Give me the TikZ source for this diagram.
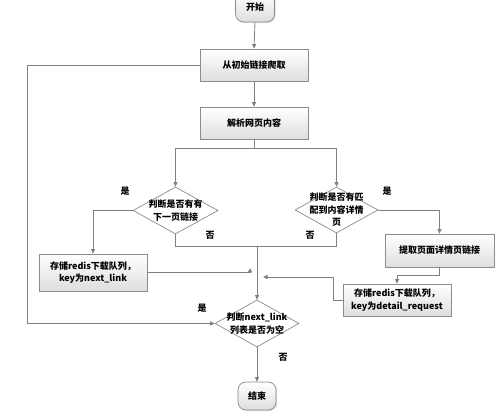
\documentclass[tikz,border=0pt]{standalone}
\usepackage{fontspec}
\setmainfont{Noto Sans CJK SC}
\usetikzlibrary{shapes.geometric,arrows.meta,shadows}
\definecolor{linegray}{RGB}{128,128,128}
\definecolor{boxgray}{RGB}{140,140,140}
\definecolor{boxfill}{RGB}{222,222,222}
\begin{document}
\begin{tikzpicture}[x=1pt,y=-1pt,
  font=\fontsize{9}{12.5}\selectfont\bfseries,
  line/.style={draw=linegray, line width=0.8pt},
  arr/.style={line, -{Triangle[length=4.5pt,width=4pt]}},
  proc/.style={rectangle, draw=boxgray, line width=0.7pt, top color=white, bottom color=boxfill,
    inner sep=0pt, align=center, drop shadow={shadow xshift=1.2pt, shadow yshift=-1.2pt, opacity=0.25}},
  term/.style={proc, rounded corners=8pt},
  dec/.style={diamond, draw=boxgray, line width=0.7pt, fill=white, inner sep=0pt},
  lbl/.style={inner sep=0pt}]
\useasboundingbox (0,0) rectangle (500,419);
\fill[white] (0,0) rectangle (500,419);
% nodes
\node[term, minimum width=39pt, minimum height=30pt] (start) at (255,7) {开始};
\node[proc, minimum width=108pt, minimum height=32pt] (b1) at (254,65) {从初始链接爬取};
\node[proc, minimum width=108pt, minimum height=32pt] (b2) at (254,123) {解析网页内容};
\node[dec, minimum width=85pt, minimum height=47pt,
  label={[align=center]center:判断是否有有\\下一页链接}] (d1) at (175.5,210.5) {};
\node[dec, minimum width=83pt, minimum height=46pt,
  label={[align=center]center:判断是否有匹\\配到内容详情\\页}] (d2) at (336.5,210) {};
\node[proc, minimum width=108pt, minimum height=37pt] (b3) at (93,272.5) {存储redis下载队列，\\key为next\_link};
\node[proc, minimum width=109pt, minimum height=33pt] (b4) at (439.5,250.5) {提取页面详情页链接};
\node[proc, minimum width=108pt, minimum height=32pt] (b5) at (397,300) {存储redis下载队列，\\key为detail\_request};
\node[dec, minimum width=84pt, minimum height=47pt,
  label={[align=center]center:判断next\_link\\列表是否为空}] (d3) at (257,323.5) {};
\node[term, minimum width=38pt, minimum height=28pt] (end) at (257,396) {结束};
% labels
\node[lbl] (y1) at (125,191) {是};
\node[lbl] (n1l) at (210,235) {否};
\node[lbl] (y2) at (387,191) {是};
\node[lbl] (n2l) at (310,235) {否};
\node[lbl] (y3) at (202,308) {是};
\node[lbl] (n3l) at (283,357) {否};
% coordinates
\coordinate (split) at (254,148);
\coordinate (j) at (257,246);
\coordinate (k) at (397,275);
\coordinate (m) at (263,277);
\coordinate (p1) at (250,272.5);
\coordinate (p2) at (250,268);
\coordinate (lft) at (27,65);
% connectors
\draw[arr] (start.south) -- (b1.north);
\draw[arr] (b1.south) -- (b2.north);
\draw[line] (b2.south) -- (split);
\draw[arr] (split) -| (d1.north);
\draw[arr] (split) -| (d2.north);
\draw[arr] (d1.west) -| (b3.north);
\draw[line] (d1.south) |- (j);
\draw[line] (d2.south) |- (j);
\draw[arr] (j) -- (d3.north);
\draw[arr] (d2.east) -| (b4.north);
\draw[arr] (b4.south) |- (k) -- (b5.north);
\draw[arr] (b5.west) -- ++(-9,0) |- (m);
\draw[arr] (b3.east) -- (p1) -- (p2);
\draw[arr] (b1.west) -- (lft) |- (d3.west);
\draw[arr] (d3.south) -- (end.north);
\end{tikzpicture}
\end{document}
